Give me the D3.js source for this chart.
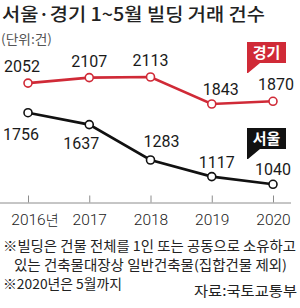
<!DOCTYPE html>
<html>
<head>
<meta charset="utf-8">
<script src="https://d3js.org/d3.v7.min.js"></script>
<style>
body { margin: 0; background: #fff; }
svg { display: block; font-family: "Noto Sans CJK KR", "Noto Sans", sans-serif; }
.num { font-family: Roboto, "Liberation Sans", sans-serif; }
.axis path, .axis line { stroke: #8c8c8c; }
.axis text { font-family: Roboto, "Liberation Sans", sans-serif; font-size: 15.5px; fill: #222; font-weight: 300; }
</style>
</head>
<body>
<div id="chart"></div>
<script>
var years = ["2016", "2017", "2018", "2019", "2020"];
var gyeonggi = [2052, 2107, 2113, 1843, 1870];
var seoul = [1756, 1637, 1283, 1117, 1040];
var seriesNames = ["경기", "서울"];
var colors = ["#d02a37", "#111111"];

// label offsets (dx, dy from point)
var gyeonggiLabelPos = [[-6, -11], [0, -11], [0, -11], [9, -9], [3, -11]];
var seoulLabelPos = [[-7, 27], [-8, 24], [11, -13], [5, -9], [0, -9]];

var width = 300, height = 308;

var svg = d3.select("#chart").append("svg")
  .attr("width", width)
  .attr("height", height);

/* title */
svg.append("text")
  .attr("x", 2).attr("y", 21)
  .attr("textLength", 263).attr("lengthAdjust", "spacingAndGlyphs")
  .style("font-size", "18px").style("font-weight", 500).style("fill", "#222")
  .text("서울·경기 1~5월 빌딩 거래 건수");
svg.append("text")
  .attr("x", 1).attr("y", 44)
  .attr("textLength", 51).attr("lengthAdjust", "spacingAndGlyphs")
  .style("font-size", "13px").style("fill", "#555")
  .text("(단위:건)");

/* scales */
var x = d3.scalePoint().domain(years).range([28, 273]);
var y = d3.scaleLinear().domain([1000, 2200]).range([188.3, 68.3]);

/* axis */
var xAxis = d3.axisBottom(x).tickSize(-8).tickPadding(8).tickSizeOuter(0);
var gx = svg.append("g")
  .attr("class", "axis")
  .attr("transform", "translate(0,202.5)")
  .call(xAxis);
gx.select(".domain").attr("d", "M0,0.5H291");
gx.selectAll(".tick line").attr("y2", -7);
gx.selectAll(".tick text").attr("dy", "0.95em");
var first = gx.select(".tick text");
var w = first.node().getComputedTextLength();
first.attr("text-anchor", "start").attr("x", -w / 2)
  .append("tspan").style("font-family", "Noto Sans CJK KR").style("font-size", "14px").text("년");

/* lines */
var line = d3.line()
  .x(function(d, i) { return x(years[i]); })
  .y(function(d) { return y(d); });

var series = [gyeonggi, seoul];
var labelPos = [gyeonggiLabelPos, seoulLabelPos];

series.forEach(function(vals, s) {
  svg.append("path")
    .datum(vals)
    .attr("d", line)
    .attr("fill", "none")
    .attr("stroke", colors[s])
    .attr("stroke-width", 2.6);
  svg.selectAll(".pt" + s)
    .data(vals).enter()
    .append("circle")
    .attr("cx", function(d, i) { return x(years[i]); })
    .attr("cy", function(d) { return y(d); })
    .attr("r", 4)
    .attr("fill", "#fff")
    .attr("stroke", colors[s])
    .attr("stroke-width", 1.6);
  svg.selectAll(".lb" + s)
    .data(vals).enter()
    .append("text")
    .attr("class", "num")
    .attr("x", function(d, i) { return x(years[i]) + labelPos[s][i][0]; })
    .attr("y", function(d, i) { return y(d) + labelPos[s][i][1]; })
    .attr("text-anchor", "middle")
    .style("font-size", "16px")
    .style("fill", "#1a1a1a")
    .text(function(d) { return d; });
});

/* legend tags */
var tagY = [42, 128];
seriesNames.forEach(function(name, s) {
  var g = svg.append("g").attr("transform", "translate(247," + tagY[s] + ")");
  g.append("path")
    .attr("d", "M0,0H39V21H13L1,31H0Z")
    .attr("fill", colors[s]);
  g.append("text")
    .attr("x", 19.5).attr("y", 16)
    .attr("text-anchor", "middle")
    .style("font-size", "15px").style("font-weight", 700).style("fill", "#fff")
    .text(name);
});

/* footnotes */
var notes = [
  {t: "※빌딩은 건물 전체를 1인 또는 공동으로 소유하고", x: 3, y: 250.6, w: 293},
  {t: "있는 건축물대장상 일반건축물(집합건물 제외)", x: 14, y: 270, w: 273},
  {t: "※2020년은 5월까지", x: 3, y: 289.4, w: 119}
];
notes.forEach(function(n) {
  svg.append("text")
    .attr("x", n.x).attr("y", n.y)
    .attr("textLength", n.w).attr("lengthAdjust", "spacingAndGlyphs")
    .style("font-size", "13.4px").style("fill", "#222")
    .text(n.t);
});
svg.append("text")
  .attr("x", 297).attr("y", 296)
  .attr("text-anchor", "end")
  .attr("textLength", 103).attr("lengthAdjust", "spacingAndGlyphs")
  .style("font-size", "14px").style("fill", "#222")
  .text("자료:국토교통부");
</script>
</body>
</html>
